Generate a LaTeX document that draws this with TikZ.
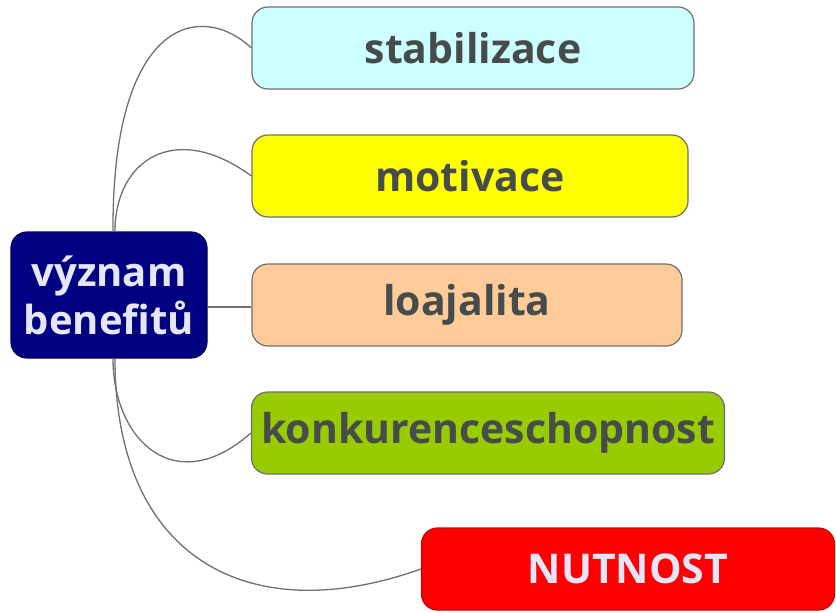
\documentclass[tikz,border=0pt]{standalone}
\usepackage{fontspec}
\setmainfont{Open Sans}
\usepackage{tikz}

\definecolor{stabfill}{HTML}{CCFFFF}
\definecolor{motfill}{HTML}{FFFF00}
\definecolor{loajfill}{HTML}{FFCC99}
\definecolor{konkfill}{HTML}{99CC00}
\definecolor{nutfill}{HTML}{FF0000}
\definecolor{hubfill}{HTML}{000080}
\definecolor{hubtext}{HTML}{E6E6FA}
\definecolor{leaftext}{HTML}{464C4C}
\definecolor{edgegray}{HTML}{707070}

\begin{document}
\begin{tikzpicture}[x=1pt,y=-1pt]
\tikzstyle{leaf}=[draw=edgegray, line width=1.2pt, rounded corners=16pt, minimum height=82pt, text=leaftext, font=\fontsize{41}{44}\selectfont\bfseries]
\tikzstyle{hub}=[draw=hubfill!70!black, line width=1.2pt, fill=hubfill, rounded corners=16pt, minimum width=196pt, minimum height=126pt, text=hubtext, align=center, font=\fontsize{40}{48}\selectfont\bfseries]
\tikzstyle{link}=[draw=edgegray, line width=1.3pt]
\useasboundingbox (0,0) rectangle (836,613);
% hub
\node [hub] (vyznam) at (109,295) {význam\\benefitů};
% branches
\node [leaf, fill=stabfill, minimum width=442pt] (stab) at (473,48) {stabilizace};
\node [leaf, fill=motfill, minimum width=436pt] (motiv) at (470,176) {motivace};
\node [leaf, fill=loajfill, minimum width=430pt] (loaj) at (467,305) {loajalita};
\node [leaf, fill=konkfill, minimum width=473pt] (konk) at (488,433) {konkurenceschopnost};
\node [leaf, fill=nutfill, draw=nutfill!80!black, minimum width=413pt, text=hubtext] (nut) at (628,569) {NUTNOST};
% connectors
\draw [link] ([xshift=4pt]vyznam.north) .. controls (112,20) and (200,0) .. (stab.west);
\draw [link] ([xshift=6pt]vyznam.north) .. controls (115,160) and (175,120) .. (motiv.west);
\draw [link] ([yshift=-12pt]vyznam.east) -- ([yshift=-2pt]loaj.west);
\draw [link] ([xshift=4pt]vyznam.south) .. controls (113,440) and (175,500) .. (konk.west);
\draw [link] ([xshift=6pt]vyznam.south) .. controls (115,560) and (250,630) .. (nut.west);
\end{tikzpicture}
\end{document}
